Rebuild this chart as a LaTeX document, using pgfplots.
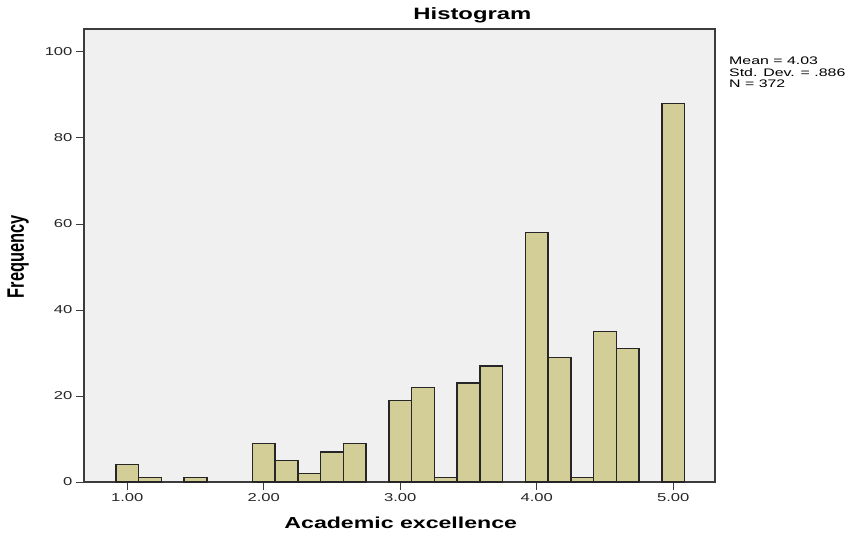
\documentclass[border=0pt]{standalone}
\usepackage{fontspec}
\setmainfont{Liberation Sans}
\usepackage{graphicx}
\usepackage{pgfplots}
\pgfplotsset{compat=1.18}
\definecolor{barfill}{RGB}{211,206,152}
\definecolor{plotbg}{RGB}{240,240,240}
\definecolor{axgray}{RGB}{60,60,60}
\newcommand{\wide}[1]{\scalebox{1.45}[1]{#1}}
\begin{document}
\begin{tikzpicture}
\useasboundingbox (-84bp,-53bp) rectangle (767bp,482bp);
\begin{axis}[
  at={(0,0)}, anchor=south west,
  scale only axis, width=631bp, height=453bp,
  xmin=0.683, xmax=5.306, ymin=0, ymax=105.35,
  axis background/.style={fill=plotbg},
  axis line style={axgray, line width=1.3bp},
  clip=false,
  xtick={1,2,3,4,5},
  xticklabels={\wide{1.00},\wide{2.00},\wide{3.00},\wide{4.00},\wide{5.00}},
  ytick={0,20,40,60,80,100},
  yticklabels={\wide{0},\wide{20},\wide{40},\wide{60},\wide{80},\wide{100}},
  tick align=outside, tick pos=left,
  major tick length=8bp,
  tick style={axgray, line width=1bp},
  minor tick num=0,
  tick label style={font=\fontsize{11.5}{13}\selectfont, text=black!85},
  title={\wide{Histogram}},
  title style={font=\fontsize{16.5}{18}\selectfont\bfseries, at={(axis description cs:0.6155,1)}, anchor=base, yshift=4bp},
  xlabel={\wide{Academic excellence}},
  xlabel style={font=\fontsize{16}{18}\selectfont\bfseries, at={(axis description cs:0.502,0)}, anchor=base, yshift=-46bp},
  ylabel={\scalebox{1}[1.45]{Frequency}},
  ylabel style={font=\fontsize{16.5}{18}\selectfont\bfseries, at={(axis description cs:-0.0951,0.497)}, anchor=base},
]
\addplot[ybar, bar width=0.16667, fill=barfill, draw=black!85, line width=1.3bp] coordinates {
(1.0,4) (1.16667,1) (1.5,1)
(2.0,9) (2.16667,5) (2.33333,2) (2.5,7) (2.66667,9)
(3.0,19) (3.16667,22) (3.33333,1) (3.5,23) (3.66667,27)
(4.0,58) (4.16667,29) (4.33333,1) (4.5,35) (4.66667,31)
(5.0,88)
};
\node[anchor=base west, inner sep=0, font=\fontsize{11}{12}\selectfont] at (rel axis cs:1.0222,0.9221) {\wide{Mean = 4.03}};
\node[anchor=base west, inner sep=0, font=\fontsize{11}{12}\selectfont] at (rel axis cs:1.0222,0.8962) {\wide{Std. Dev. = .886}};
\node[anchor=base west, inner sep=0, font=\fontsize{11}{12}\selectfont] at (rel axis cs:1.0222,0.8713) {\wide{N = 372}};
\end{axis}
\end{tikzpicture}
\end{document}
